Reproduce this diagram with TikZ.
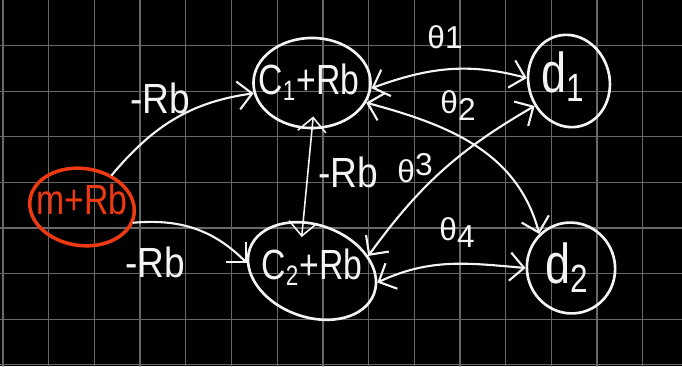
\documentclass[tikz,border=0pt]{standalone}
\usepackage{fontspec}
\setmainfont{Liberation Sans}
\usetikzlibrary{shapes.geometric,arrows.meta}
\definecolor{chalk}{HTML}{F4F4F4}
\definecolor{redchalk}{HTML}{EE3A12}
\definecolor{gridgray}{HTML}{686868}

\begin{document}
\begin{tikzpicture}[x=0.01cm,y=0.01cm,line cap=round,line join=round,>={Straight Barb[length=4pt,width=8pt]},
  state/.style={ellipse,draw=chalk,line width=0.75pt,inner sep=0pt},
  hand/.style={text=chalk,inner sep=1pt,xscale=0.8,font=\fontsize{12}{14}\selectfont},
  theta/.style={text=chalk,inner sep=1pt,font=\fontsize{9}{11}\selectfont},
  wire/.style={draw=chalk,line width=0.6pt}]
  \useasboundingbox (0,0) rectangle (682,366);
  \fill[black] (0,0) rectangle (682,366);
  \foreach \i in {0,...,14} \draw[gridgray,line width=0.35pt] ({3+45.7*\i},0) -- ({3+45.7*\i},366);
  \foreach \j in {1,...,8} \draw[gridgray,line width=0.35pt] (0,{366-45.6*\j}) -- (682,{366-45.6*\j});

  \node[state,draw=redchalk,line width=1pt,minimum width=1.05cm,minimum height=0.77cm,rotate=-8] (m) at (82,159) {};
  \node[hand,text=redchalk] (mtxt) at (82,167) {m+Rb};
  \node[state,minimum width=1.17cm,minimum height=0.9cm] (c1) at (312,283) {};
  \node[hand] (c1txt) at (309,284) {C\textsubscript{1}+Rb};
  \node[state,minimum width=1.32cm,minimum height=0.92cm,rotate=-20] (c2) at (312,95) {};
  \node[hand] (c2txt) at (312,99) {C\textsubscript{2}+Rb};
  \node[state,minimum width=0.81cm,minimum height=0.93cm,rotate=15] (d1) at (569,285) {};
  \node[hand,font=\fontsize{16}{18}\selectfont] (d1txt) at (563,289) {d\textsubscript{1}};
  \node[state,minimum width=0.88cm,minimum height=0.91cm,rotate=15] (d2) at (571,98) {};
  \node[hand,font=\fontsize{16}{18}\selectfont] (d2txt) at (567,98) {d\textsubscript{2}};

  \draw[wire,->] (m.55) to[out=50,in=188] (c1.190);
  \draw[wire,->] (m.-9) to[out=5,in=135] (c2.193);
  \draw[wire,<->,line width=0.45pt,shorten <=-1.3mm,shorten >=-1.6mm] (c1.270) -- (c2.120);
  \draw[wire,<->] (c1.-5) to[out=20,in=165] (d1.161);
  \draw[wire,<->] (c1.-20) to[out=-15,in=105] (d2.118);
  \draw[wire,<->] (c2.35) to[bend left=12] (d1.201);
  \draw[wire,<->] (c2.10) to[out=25,in=175] (d2.165);

  \node[hand,xscale=1.1] (rb1) at (160,268) {-Rb};
  \node[hand,xscale=1.1] (rb2) at (155,104) {-Rb};
  \node[hand,xscale=1.1] (rb3) at (348,194) {-Rb};
  \node[theta] (th1) at (445,329) {θ1};
  \node[theta] (th2) at (458,260) {θ\raisebox{-2pt}{2}};
  \node[theta] (th3) at (415,198) {θ\raisebox{2pt}{\small 3}};
  \node[theta] (th4) at (457,133) {θ\raisebox{-2pt}{4}};
\end{tikzpicture}
\end{document}
